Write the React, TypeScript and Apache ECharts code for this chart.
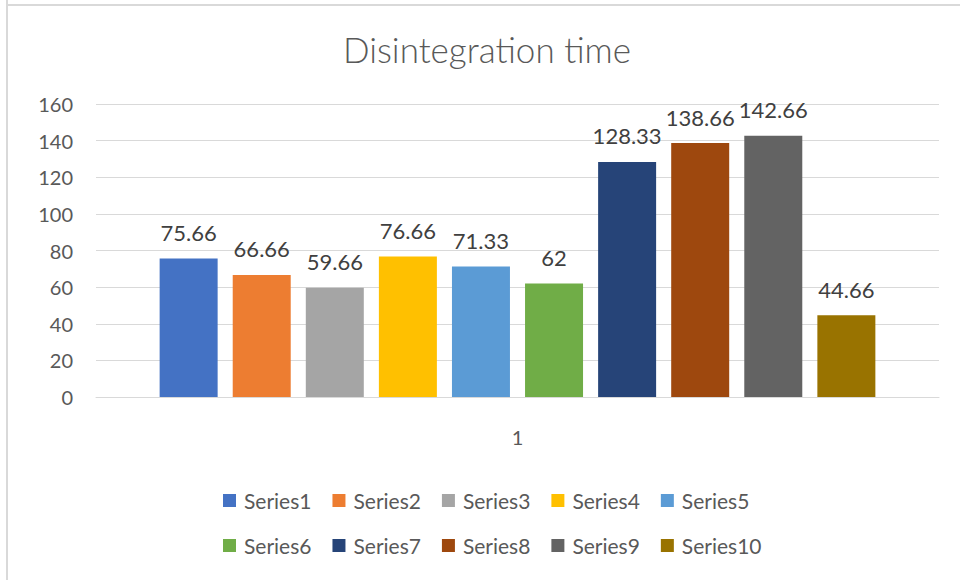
import React, { useEffect, useRef } from "react";
import * as echarts from "echarts";

const categories = ["1"];
const seriesNames = ["Series1", "Series2", "Series3", "Series4", "Series5", "Series6", "Series7", "Series8", "Series9", "Series10"];
const seriesValues = [75.66, 66.66, 59.66, 76.66, 71.33, 62, 128.33, 138.66, 142.66, 44.66];
const seriesColors = ["#4472C4", "#ED7D31", "#A5A5A5", "#FFC000", "#5B9BD5", "#70AD47", "#264478", "#9E480E", "#636363", "#997300"];
const yTicks = { min: 0, max: 160, interval: 20 };
const titleText = "Disintegration time";

const FONT = "Lato, 'Open Sans', sans-serif";

export default function App() {
  const ref = useRef<HTMLDivElement>(null);
  useEffect(() => {
    if (!ref.current) return;
    const chart = echarts.init(ref.current, undefined, { renderer: "svg" });
    const legendCommon = {
      itemWidth: 13,
      itemHeight: 13,
      itemGap: 21,
      icon: "rect",
      padding: 0,
      textStyle: { color: "#595959", fontSize: 21, fontFamily: FONT, padding: [0, 0, 0, 3] },
      selectedMode: false,
    };
    chart.setOption({
      animation: false,
      backgroundColor: "#ffffff",
      title: {
        text: titleText,
        left: 338,
        top: 26,
        textStyle: { color: "#595959", fontSize: 35, fontWeight: 300, fontFamily: FONT },
      },
      graphic: [
        { type: "line", shape: { x1: 7, y1: 0, x2: 7, y2: 580 }, style: { stroke: "#d9d9d9", lineWidth: 2 } },
        { type: "line", shape: { x1: 6, y1: 5, x2: 960, y2: 5 }, style: { stroke: "#d9d9d9", lineWidth: 2 } },
      ],
      legend: [
        { ...legendCommon, data: seriesNames.slice(0, 5), left: 223, top: 490 },
        { ...legendCommon, data: seriesNames.slice(5), left: 223, top: 535 },
      ],
      grid: { left: 96, right: 21, top: 104, bottom: 183, containLabel: false },
      xAxis: {
        type: "category",
        data: categories,
        axisLine: { lineStyle: { color: "#d9d9d9", width: 1 } },
        axisTick: { show: false },
        axisLabel: { color: "#595959", fontSize: 20, fontFamily: FONT, margin: 30 },
      },
      yAxis: {
        type: "value",
        min: yTicks.min,
        max: yTicks.max,
        interval: yTicks.interval,
        axisLine: { show: false },
        axisTick: { show: false },
        splitLine: { lineStyle: { color: "#d9d9d9", width: 1 } },
        axisLabel: { color: "#595959", fontSize: 20, fontFamily: FONT, margin: 23 },
      },
      series: seriesNames.map((name, i) => ({
        name,
        type: "bar",
        data: [seriesValues[i]],
        barWidth: 58,
        barGap: "26%",
        itemStyle: { color: seriesColors[i] },
        label: {
          show: true,
          position: "top",
          distance: 15,
          color: "#404040",
          fontSize: 22,
          fontFamily: FONT,
        },
      })),
    });
    return () => chart.dispose();
  }, []);
  return <div ref={ref} style={{ position: "fixed", left: 0, top: 0, width: 960, height: 580 }} />;
}
